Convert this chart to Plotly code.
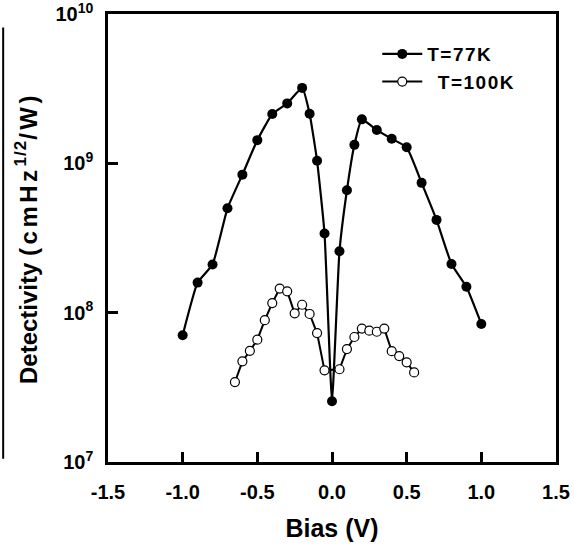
import plotly.graph_objects as go

# T = 77 K
bias_77 = [-1.0, -0.9, -0.8, -0.7, -0.6, -0.5, -0.4, -0.3, -0.2, -0.15, -0.1, -0.05,
           0.0, 0.05, 0.1, 0.15, 0.2, 0.3, 0.4, 0.5, 0.6, 0.7, 0.8, 0.9, 1.0]
det_77 = [7.06e7, 1.59e8, 2.1e8, 5.0e8, 8.4e8, 1.43e9, 2.14e9, 2.52e9, 3.2e9, 2.15e9,
          1.04e9, 3.39e8, 2.55e7, 2.58e8, 6.6e8, 1.33e9, 1.97e9, 1.67e9, 1.46e9,
          1.28e9, 7.4e8, 4.18e8, 2.12e8, 1.49e8, 8.4e7]

# T = 100 K
bias_100 = [-0.65, -0.6, -0.55, -0.5, -0.45, -0.4, -0.35, -0.3, -0.25, -0.2, -0.15,
            -0.1, -0.05, 0.05, 0.1, 0.15, 0.2, 0.25, 0.3, 0.35, 0.4, 0.45, 0.5, 0.55]
det_100 = [3.43e7, 4.72e7, 5.55e7, 6.59e7, 8.9e7, 1.16e8, 1.45e8, 1.39e8, 9.9e7,
           1.13e8, 9.8e7, 7.3e7, 4.11e7, 4.18e7, 5.7e7, 6.87e7, 7.82e7, 7.57e7,
           7.45e7, 7.82e7, 5.52e7, 5.12e7, 4.65e7, 3.98e7]

x_ticks = [-1.5, -1.0, -0.5, 0.0, 0.5, 1.0, 1.5]
x_tick_text = ["-1.5", "-1.0", "-0.5", "0.0", "0.5", "1.0", "1.5"]
y_ticks = [1e7, 1e8, 1e9, 1e10]
y_tick_text = ["10<sup>7</sup>", "10<sup>8</sup>", "10<sup>9</sup>", "10<sup>10</sup>"]

FONT = "Liberation Sans, Arial, sans-serif"
LS = "letter-spacing:1.5px"

fig = go.Figure()
fig.add_trace(go.Scatter(
    x=bias_77, y=det_77, mode="lines+markers",
    name=f"<span style='{LS}'>T=77K</span>",
    line=dict(color="black", width=2.2, shape="spline", smoothing=0.4),
    marker=dict(symbol="circle", size=10, color="black"),
))
fig.add_trace(go.Scatter(
    x=bias_100, y=det_100, mode="lines+markers",
    name=f"&nbsp;&nbsp;<span style='{LS}'>T=100K</span>",
    line=dict(color="black", width=2),
    marker=dict(symbol="circle", size=9, color="white",
                line=dict(color="black", width=1.2)),
))

fig.update_layout(
    width=574, height=545,
    margin=dict(l=108, r=18, t=14, b=83),
    paper_bgcolor="white", plot_bgcolor="white",
    font=dict(family=FONT, color="black", size=20, weight="bold"),
    showlegend=True,
    legend=dict(x=0.601, y=0.953, xanchor="left", yanchor="top",
                bgcolor="rgba(0,0,0,0)", font=dict(size=19, weight="bold"),
                tracegroupgap=0, itemwidth=40),
    shapes=[dict(type="line", xref="paper", yref="paper",
                 x0=-0.234, x1=-0.234, y0=0.007, y1=0.97,
                 line=dict(color="black", width=2))],
)
fig.update_xaxes(
    range=[-1.5, 1.5], tickvals=x_ticks, ticktext=x_tick_text,
    ticks="inside", ticklen=10, tickwidth=2.5, tickcolor="black",
    showline=True, linewidth=2.5, linecolor="black", mirror=True,
    showgrid=False, zeroline=False, ticklabelstandoff=10, automargin=False,
    ticklabeloverflow="allow",
    tickfont=dict(size=20, weight="bold"),
    title=dict(text="Bias (V)", font=dict(size=25, weight="bold"), standoff=18),
)
fig.update_yaxes(
    type="log", range=[7, 10], tickvals=y_ticks, ticktext=y_tick_text,
    ticks="inside", ticklen=10, tickwidth=2.5, tickcolor="black",
    showline=True, linewidth=2.5, linecolor="black", mirror=True,
    showgrid=False, zeroline=False, ticklabelstandoff=8, automargin=False,
    ticklabeloverflow="allow",
    tickfont=dict(size=20, weight="bold"),
    title=dict(text="Detectivity <span style='letter-spacing:3.5px'>(cmHz</span>"
                    "<sup><span style='font-size:17px;letter-spacing:1px'>1/2</span></sup>"
                    "<span style='letter-spacing:3.5px'>/W)</span>",
               font=dict(size=24, weight="bold"), standoff=12),
)

fig.write_html("out.html")
